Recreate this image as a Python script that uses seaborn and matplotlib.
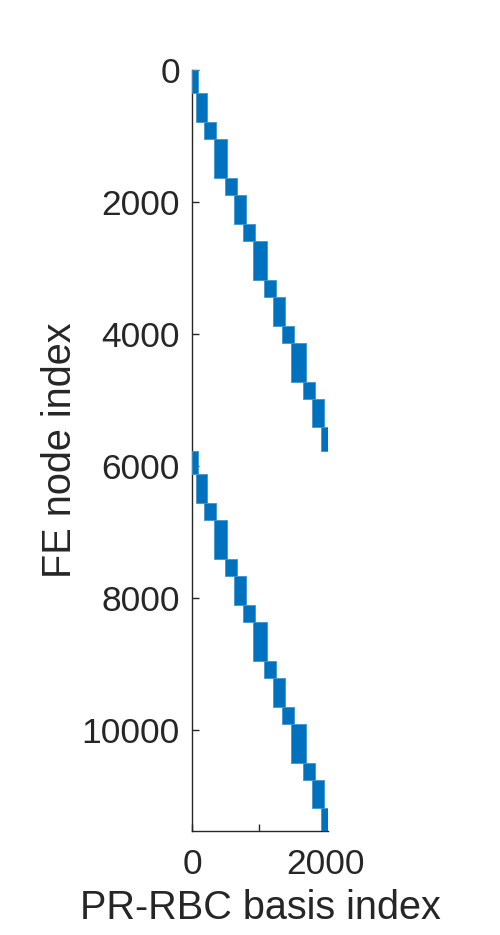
# Spy-style block pattern: FE node index vs PR-RBC basis index
import numpy as np
import pandas as pd
import seaborn as sns
import matplotlib.pyplot as plt

# Block rows (FE node index ranges)
row_start = [0, 348, 779, 1041, 1636, 1889, 2324, 2582, 3177, 3435, 3870, 4127, 4718, 4976, 5409,
             5764, 6121, 6556, 6814, 7405, 7662, 8097, 8355, 8950, 9208, 9642, 9900, 10495, 10748, 11183]
row_end = [348, 779, 1041, 1636, 1889, 2324, 2582, 3177, 3435, 3870, 4127, 4718, 4976, 5409, 5764,
           6121, 6556, 6814, 7405, 7662, 8097, 8355, 8950, 9208, 9642, 9900, 10495, 10748, 11183, 11526]
# Block columns (PR-RBC basis index ranges)
col_start = [0, 51, 182, 324, 485, 632, 758, 905, 1067, 1212, 1344, 1485, 1658, 1798, 1924,
             0, 51, 182, 324, 485, 632, 758, 905, 1067, 1212, 1344, 1485, 1658, 1798, 1924]
col_end = [82, 218, 359, 526, 667, 803, 945, 1112, 1253, 1385, 1526, 1697, 1839, 1970, 2026,
           82, 218, 359, 526, 667, 803, 945, 1112, 1253, 1385, 1526, 1697, 1839, 1970, 2026]

n_rows = 11526
n_cols = 2036

blocks = pd.DataFrame({'r0': row_start, 'r1': row_end, 'c0': col_start, 'c1': col_end})

sns.set_style("ticks")
plt.rcParams['font.family'] = ['Liberation Sans', 'DejaVu Sans']

fig = plt.figure(figsize=(5, 9.35), dpi=100)
ax = fig.add_axes([0.3846, 0.1112, 0.2718, 0.8138])
ax.set_axisbelow(True)

ax.bar(blocks['c0'], blocks['r1'] - blocks['r0'], bottom=blocks['r0'],
       width=blocks['c1'] - blocks['c0'], align='edge',
       color='#0072BD', edgecolor='#3f95d0', linewidth=0.6, zorder=3)

ax.set_xlim(0, n_cols)
ax.set_ylim(n_rows, 0)

ax.set_xticks([0, 1000, 2000])
ax.set_xticklabels(['0', '', '2000'])
ax.set_yticks([0, 2000, 4000, 6000, 8000, 10000])
ax.set_yticklabels(['0', '2000', '4000', '6000', '8000', '10000'])

sns.despine(ax=ax)
for s in ['left', 'bottom']:
    ax.spines[s].set_color('#262626')
    ax.spines[s].set_linewidth(1.0)
ax.tick_params(direction='in', length=5, width=1.0, colors='#262626',
               labelsize=25.5, labelcolor='#262626')
ax.tick_params(axis='x', pad=12)
ax.tick_params(axis='y', pad=9)

ax.set_xlabel('PR-RBC basis index', fontsize=28.5, color='#262626', labelpad=6)
ax.set_ylabel('FE node index', fontsize=28.5, color='#262626', labelpad=2)

fig.savefig('out.png', dpi=100)
